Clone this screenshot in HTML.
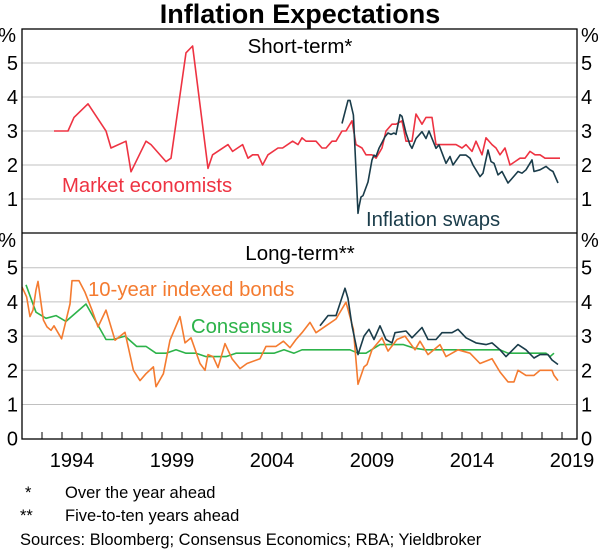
<!DOCTYPE html>
<html><head><meta charset="utf-8"><style>
body{margin:0;background:#fff;width:600px;height:550px;overflow:hidden;font-family:"Liberation Sans",Arial,sans-serif}
svg{display:block}
</style></head><body>
<svg id="chart" width="600" height="550" xmlns="http://www.w3.org/2000/svg" font-family="Liberation Sans, Arial, sans-serif">
<text x="300" y="23" text-anchor="middle" font-size="27" font-weight="bold">Inflation Expectations</text>
<g id="grid"></g>
<g id="series"></g>
<rect x="22" y="29" width="555" height="410" fill="none" stroke="#000" stroke-width="1.3"/>
<line x1="22" y1="233" x2="577" y2="233" stroke="#000" stroke-width="1.3"/>
<text x="300" y="53" text-anchor="middle" font-size="20.5">Short-term*</text>
<text x="300" y="260" text-anchor="middle" font-size="20.5">Long-term**</text>
<text x="62" y="192" font-size="20.3" fill="#ee3342">Market economists</text>
<text x="366" y="226" font-size="20.3" fill="#1a3c4a">Inflation swaps</text>
<text x="88" y="296" font-size="20.3" fill="#f47b30">10-year indexed bonds</text>
<text x="191" y="333" font-size="20.3" fill="#2db34a">Consensus</text>
<g id="axes" font-size="20"></g>
<text x="25" y="498" font-size="16.5">*</text>
<text x="65" y="498" font-size="16.5">Over the year ahead</text>
<text x="20" y="521" font-size="16.5">**</text>
<text x="65" y="521" font-size="16.5">Five-to-ten years ahead</text>
<text x="20" y="545" font-size="16.5">Sources: Bloomberg; Consensus Economics; RBA; Yieldbroker</text>
</svg>
<script>
const mktYears=[1993.6,1994.3,1994.6,1995.3,1996.2,1996.45,1997.2,1997.45,1998.2,1998.45,1999.2,1999.45,2000.2,2000.53,2001.3,2001.53,2002.3,2002.53,2003.03,2003.3,2003.53,2003.8,2004.03,2004.3,2004.8,2005.03,2005.53,2005.8,2006.0,2006.2,2006.7,2007.0,2007.2,2007.5,2007.7,2008.0,2008.2,2008.5,2008.7,2009.0,2009.2,2009.5,2009.7,2010.0,2010.2,2010.5,2010.7,2011.0,2011.2,2011.5,2011.7,2012.0,2012.2,2012.5,2012.7,2013.7,2014.0,2014.2,2014.5,2014.7,2015.0,2015.2,2015.5,2015.7,2015.9,2016.15,2016.4,2016.65,2016.9,2017.15,2017.4,2017.65,2017.9,2018.15,2018.9];
const mktVals=[3.0,3.0,3.4,3.8,3.0,2.5,2.7,1.8,2.7,2.6,2.1,2.2,5.3,5.5,1.9,2.3,2.6,2.4,2.6,2.2,2.3,2.3,2.0,2.3,2.5,2.5,2.7,2.6,2.8,2.7,2.7,2.5,2.5,2.7,2.7,3.0,3.0,3.3,2.6,2.5,2.3,2.3,2.2,2.5,3.0,3.2,3.2,3.3,2.7,2.7,3.5,3.2,3.4,3.4,2.6,2.6,2.5,2.6,2.4,2.7,2.3,2.8,2.6,2.5,2.3,2.5,2.0,2.1,2.2,2.2,2.4,2.3,2.3,2.2,2.2];
const swapSYears=[2008.0,2008.3,2008.4,2008.57,2008.8,2008.85,2008.95,2009.05,2009.3,2009.5,2009.6,2009.7,2009.85,2010.15,2010.3,2010.45,2010.6,2010.7,2010.9,2011.0,2011.2,2011.4,2011.5,2011.7,2012.0,2012.2,2012.35,2012.5,2012.7,2012.85,2013.2,2013.4,2013.55,2013.9,2014.2,2014.4,2014.55,2014.9,2015.05,2015.3,2015.45,2015.6,2015.8,2016.0,2016.3,2016.45,2016.8,2017.0,2017.2,2017.5,2017.6,2017.9,2018.2,2018.4,2018.55,2018.8];
const swapSVals=[3.22,3.9,3.9,3.47,0.58,0.77,1.06,1.1,1.5,2.15,2.29,2.25,2.49,2.83,2.94,2.9,2.94,2.9,3.48,3.43,2.94,2.59,2.49,2.78,2.98,2.78,3.0,2.78,2.49,2.59,2.05,2.25,2.0,2.29,2.29,2.2,2.0,1.66,1.76,2.44,2.1,2.05,1.71,1.81,1.47,1.57,1.81,1.76,1.86,2.15,1.81,1.86,1.96,1.86,1.81,1.47];
const bondYears=[1992.0,1992.23,1992.4,1992.55,1992.7,1992.8,1993.07,1993.25,1993.45,1993.6,1993.98,1994.4,1994.5,1994.85,1995.15,1995.5,1995.8,1996.2,1996.65,1997.15,1997.57,1997.9,1998.2,1998.57,1998.7,1999.07,1999.4,1999.9,2000.15,2000.45,2000.9,2001.15,2001.3,2001.55,2001.8,2002.15,2002.5,2002.9,2003.25,2003.9,2004.2,2004.7,2005.07,2005.4,2005.7,2006.0,2006.4,2006.7,2007.2,2007.7,2008.2,2008.57,2008.8,2009.1,2009.25,2009.5,2010.0,2010.3,2010.75,2011.15,2011.65,2011.9,2012.3,2012.9,2013.2,2013.8,2014.4,2014.9,2015.5,2015.9,2016.3,2016.6,2016.8,2017.2,2017.6,2017.9,2018.5,2018.6,2018.8];
const bondVals=[4.44,4.15,3.57,3.76,4.35,4.6,3.47,3.27,3.17,3.3,2.92,3.94,4.62,4.62,4.28,3.76,3.27,3.76,2.88,3.11,2.0,1.7,1.9,2.1,1.52,1.9,2.88,3.57,2.8,2.95,2.2,2.0,2.46,2.4,2.08,2.78,2.34,2.05,2.2,2.34,2.7,2.7,2.85,2.66,2.9,3.1,3.4,3.1,3.3,3.5,3.99,3.2,1.59,2.1,2.17,2.6,2.95,2.56,2.9,3.0,2.6,2.85,2.46,2.75,2.4,2.6,2.5,2.2,2.34,1.95,1.66,1.66,2.0,1.85,1.85,2.0,2.0,1.85,1.7];
const swapLYears=[2006.9,2007.3,2007.7,2008.15,2008.3,2008.5,2008.8,2009.1,2009.35,2009.6,2009.9,2010.2,2010.5,2010.65,2011.2,2011.5,2012.0,2012.3,2012.7,2013.0,2013.5,2013.8,2014.2,2014.7,2015.2,2015.5,2015.9,2016.2,2016.8,2017.2,2017.6,2017.9,2018.3,2018.5,2018.8];
const swapLVals=[3.3,3.6,3.6,4.4,4.1,3.3,2.46,3.0,3.2,2.9,3.3,2.9,2.8,3.1,3.15,2.95,3.25,2.9,2.9,3.1,3.1,3.2,2.95,2.8,2.75,2.8,2.6,2.4,2.75,2.6,2.36,2.46,2.46,2.3,2.17];
const consYears=[1992.2,1992.7,1993.2,1993.7,1994.2,1995.2,1996.2,1996.55,1997.15,1997.73,1998.2,1998.7,1999.2,1999.7,2000.2,2000.7,2001.2,2002.2,2002.7,2004.6,2005.1,2005.6,2006.0,2008.4,2008.8,2009.2,2009.9,2011.07,2011.6,2012.15,2015.9,2016.3,2018.2,2018.4,2018.6];
const consVals=[4.5,3.7,3.52,3.6,3.43,3.94,2.9,2.9,3.0,2.7,2.7,2.5,2.5,2.6,2.5,2.5,2.4,2.4,2.5,2.5,2.6,2.5,2.6,2.6,2.5,2.5,2.75,2.75,2.65,2.6,2.6,2.5,2.5,2.4,2.5];
const yTicksTop=[1,2,3,4,5];
const yTicksBottom=[0,1,2,3,4,5];
const xLabels=[1994,1999,2004,2009,2014,2019];

const NS='http://www.w3.org/2000/svg';
const x=y=>22+20*(y-1992);
const yTop=v=>233-34*v;
const yBot=v=>438.7-34.2*v;
function mk(tag,attrs,parent){const e=document.createElementNS(NS,tag);for(const k in attrs)e.setAttribute(k,attrs[k]);parent.appendChild(e);return e;}
const grid=document.getElementById('grid'),axes=document.getElementById('axes'),ser=document.getElementById('series');
yTicksTop.forEach(v=>{
  const l=mk('line',{x1:22,x2:577,y1:yTop(v),y2:yTop(v),stroke:'#c0c0c0','stroke-width':1},grid);
  
  
  [[18,'end'],[581,'start']].forEach(([px,a])=>{const t=mk('text',{x:px,y:yTop(v)+7,'text-anchor':a},axes);t.textContent=v;
  
  });
});
yTicksBottom.forEach(v=>{
  if(v>0){const l=mk('line',{x1:22,x2:577,y1:yBot(v),y2:yBot(v),stroke:'#c0c0c0','stroke-width':1},grid);
  
  }
  [[18,'end'],[581,'start']].forEach(([px,a])=>{const t=mk('text',{x:px,y:yBot(v)+7,'text-anchor':a},axes);t.textContent=v;
  
  });
});
[[16,42],[16,247],[581,42],[581,247]].forEach(([px,py],i)=>{const t=mk('text',{x:px,y:py,'text-anchor':i<2?'end':'start'},axes);t.textContent='%';
  
  });
for(let yr=1993;yr<=2019;yr++){const l=mk('line',{x1:x(yr),x2:x(yr),y1:438.7,y2:432,stroke:'#000','stroke-width':1},axes);
  
  }
xLabels.forEach(yr=>{const t=mk('text',{x:x(yr+0.5),y:467,'text-anchor':'middle'},axes);t.textContent=yr;
  
  });
function line(xs,vs,fy,color,name){
  const p=mk('polyline',{points:xs.map((a,i)=>x(a).toFixed(1)+','+fy(vs[i]).toFixed(1)).join(' '),fill:'none',stroke:color,'stroke-width':1.6,'stroke-linejoin':'round'},ser);
  
  
}
line(mktYears,mktVals,yTop,'#ee3342','market-economists-line');
line(swapSYears,swapSVals,yTop,'#1a3c4a','short-term-swaps-line');
line(consYears,consVals,yBot,'#2db34a','consensus-line');
line(bondYears,bondVals,yBot,'#f47b30','indexed-bonds-line');
line(swapLYears,swapLVals,yBot,'#1a3c4a','long-term-swaps-line');
</script>
</body></html>
